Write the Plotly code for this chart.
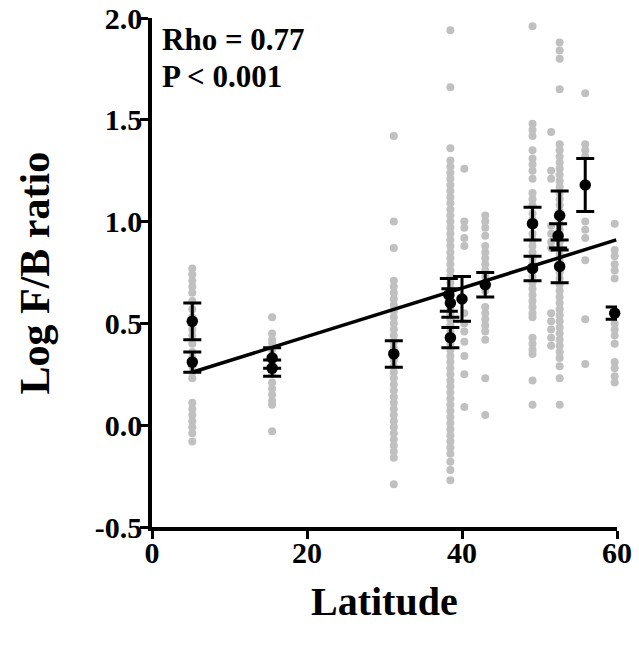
import plotly.graph_objects as go

# ---- data ----
grey_lat_5 = 5.2
grey_val_5 = [0.77, 0.74, 0.71, 0.68, 0.65, 0.61, 0.57, 0.53, 0.47, 0.44, 0.40, 0.36, 0.33,
              0.29, 0.26, 0.23, 0.11, 0.08, 0.05, 0.02, -0.01, -0.04, -0.08]
grey_lat_15 = 15.5
grey_val_15 = [0.53, 0.45, 0.42, 0.40, 0.37, 0.34, 0.31, 0.28, 0.25, 0.21, 0.18, 0.15, 0.12, 0.10, -0.03]
grey_lat_31 = 31.2
grey_val_31 = [1.42, 1.00, 0.87, 0.71, 0.68, 0.65, 0.62, 0.59, 0.56, 0.53, 0.50, 0.47, 0.44, 0.41,
               0.38, 0.35, 0.32, 0.29, 0.26, 0.23, 0.20, 0.17, 0.14, 0.11, 0.08, 0.05, 0.02, -0.01,
               -0.04, -0.07, -0.10, -0.13, -0.16, -0.29]
grey_lat_38 = 38.5
grey_val_38 = [1.94, 1.66, 1.36, 1.30, 1.27, 1.24, 1.21, 1.18, 1.15, 1.12, 1.09, 1.06, 1.03, 1.00,
               0.97, 0.94, 0.91, 0.88, 0.85, 0.82, 0.79, 0.76, 0.73, 0.70, 0.67, 0.64, 0.61, 0.58,
               0.55, 0.52, 0.49, 0.46, 0.43, 0.40, 0.37, 0.34, 0.31, 0.28, 0.25, 0.22, 0.19, 0.16,
               0.13, 0.10, 0.07, 0.04, 0.01, -0.02, -0.05, -0.08, -0.11, -0.14, -0.18, -0.22, -0.27]
grey_lat_40 = 40.3
grey_val_40 = [1.26, 1.00, 0.97, 0.92, 0.88, 0.55, 0.50, 0.46, 0.41, 0.34, 0.25, 0.09]
grey_lat_43 = 43.0
grey_val_43 = [1.03, 1.00, 0.97, 0.93, 0.88, 0.85, 0.82, 0.79, 0.76, 0.73, 0.70, 0.66, 0.58, 0.55,
               0.52, 0.49, 0.46, 0.42, 0.23, 0.05]
grey_lat_49 = 49.1
grey_val_49 = [1.96, 1.48, 1.45, 1.42, 1.35, 1.31, 1.28, 1.25, 1.21, 1.14, 1.11, 1.08, 1.04, 1.01,
               0.98, 0.94, 0.91, 0.88, 0.85, 0.82, 0.79, 0.76, 0.73, 0.70, 0.67, 0.64, 0.61, 0.58,
               0.55, 0.53, 0.43, 0.40, 0.37, 0.35, 0.22, 0.10]
grey_lat_51 = 51.5
grey_val_51 = [1.44, 1.25, 1.21, 0.98, 0.94, 0.90, 0.87, 0.55, 0.51, 0.47, 0.43, 0.39]
grey_lat_52 = 52.6
grey_val_52 = [1.88, 1.84, 1.80, 1.65, 1.38, 1.35, 1.32, 1.29, 1.26, 1.23, 1.20, 1.17, 1.14, 1.11,
               1.08, 1.05, 1.02, 0.99, 0.96, 0.93, 0.90, 0.87, 0.84, 0.81, 0.78, 0.75, 0.72, 0.69,
               0.66, 0.63, 0.60, 0.57, 0.54, 0.51, 0.48, 0.45, 0.42, 0.39, 0.36, 0.33, 0.29, 0.23, 0.10]
grey_lat_56 = 55.9
grey_val_56 = [1.63, 1.38, 1.35, 1.32, 1.00, 0.96, 0.92, 0.81, 0.52, 0.30]
grey_lat_59 = 59.7
grey_val_59 = [0.99, 0.86, 0.83, 0.79, 0.76, 0.72, 0.56, 0.50, 0.47, 0.44, 0.40, 0.31, 0.28, 0.24, 0.21]

mean_lat = [5.2, 5.2, 15.5, 15.5, 31.2, 38.5, 38.5, 38.3, 40.0, 43.0, 49.1, 49.1, 52.6, 52.4, 52.6, 55.9, 59.7]
mean_val = [0.51, 0.31, 0.33, 0.28, 0.35, 0.43, 0.60, 0.64, 0.62, 0.69, 0.99, 0.77, 1.03, 0.93, 0.78, 1.18, 0.55]
mean_err = [0.09, 0.05, 0.05, 0.04, 0.065, 0.05, 0.07, 0.08, 0.11, 0.06, 0.08, 0.06, 0.12, 0.06, 0.08, 0.13, 0.03]

fit_lat = [5.2, 59.9]
fit_val = [0.26, 0.91]

x_ticks = [0, 20, 40, 60]
y_ticks = [-0.5, 0.0, 0.5, 1.0, 1.5, 2.0]
y_tick_text = ["-0.5", "0.0", "0.5", "1.0", "1.5", "2.0"]

stats_line1 = "Rho = 0.77"
stats_line2 = "P < 0.001"
x_title = "Latitude"
y_title = "Log F/B ratio"

# ---- build grey point arrays ----
columns = [
    (grey_lat_5, grey_val_5), (grey_lat_15, grey_val_15), (grey_lat_31, grey_val_31),
    (grey_lat_38, grey_val_38), (grey_lat_40, grey_val_40), (grey_lat_43, grey_val_43),
    (grey_lat_49, grey_val_49), (grey_lat_51, grey_val_51), (grey_lat_52, grey_val_52),
    (grey_lat_56, grey_val_56), (grey_lat_59, grey_val_59),
]
gx, gy = [], []
for lat, vals in columns:
    gx += [lat] * len(vals)
    gy += vals

FONT = "Liberation Serif, Times New Roman, serif"
W, H = 639, 647
L, R, T, B = 152, 22, 18, 120
PW, PH = W - L - R, H - T - B


def py(pix):                 # window pixel -> paper y
    return (H - B - pix) / PH


def px(pix):                 # window pixel -> paper x
    return (pix - L) / PW


fig = go.Figure()
fig.add_trace(go.Scatter(
    x=gx, y=gy, mode="markers",
    marker=dict(size=8, color="rgb(192,192,192)"),
    hoverinfo="skip", cliponaxis=False, showlegend=False,
))
fig.add_trace(go.Scatter(
    x=fit_lat, y=fit_val, mode="lines",
    line=dict(color="black", width=3.5),
    cliponaxis=False, showlegend=False,
))
fig.add_trace(go.Scatter(
    x=mean_lat, y=mean_val, mode="markers",
    marker=dict(size=11.5, color="black"),
    error_y=dict(type="data", array=mean_err, visible=True, color="black", thickness=3, width=9),
    cliponaxis=False, showlegend=False,
))

axis_common = dict(
    showgrid=False, zeroline=False, automargin=False, ticklabeloverflow="allow",
    showline=True, linecolor="black", linewidth=3.5,
    ticks="outside", ticklen=8, tickwidth=3, tickcolor="black",
    tickfont=dict(family=FONT, size=30, color="black", weight="bold"),
)

fig.update_layout(
    width=W, height=H,
    margin=dict(l=L, r=R, t=T, b=B, autoexpand=False),
    paper_bgcolor="white", plot_bgcolor="white",
    font=dict(family=FONT, color="black"),
    xaxis=dict(range=[0, 60], tickvals=x_ticks, ticklabelstandoff=-12, **axis_common),
    yaxis=dict(range=[-0.5, 2.0], tickvals=y_ticks, ticktext=y_tick_text,
               ticklabelstandoff=-8, **axis_common),
    annotations=[
        dict(text="<b>" + x_title + "</b>", xref="paper", yref="paper", x=0.5, y=py(601),
             xanchor="center", yanchor="middle", showarrow=False,
             font=dict(family=FONT, size=40, color="black")),
        dict(text="<b>" + y_title + "</b>", xref="paper", yref="paper", x=px(34), y=0.5,
             xanchor="center", yanchor="middle", textangle=-90, showarrow=False,
             font=dict(family=FONT, size=42, color="black")),
        dict(text="<b>" + stats_line1 + "</b>", xref="paper", yref="paper",
             x=px(160), y=py(39), xanchor="left", yanchor="middle",
             showarrow=False, font=dict(family=FONT, size=31, color="black")),
        dict(text="<b>" + stats_line2 + "</b>", xref="paper", yref="paper",
             x=px(160), y=py(76), xanchor="left", yanchor="middle",
             showarrow=False, font=dict(family=FONT, size=31, color="black")),
    ],
)

# remove the browser's default 8px page margin so the figure fills the window exactly
fig.write_html("out.html", config={"displayModeBar": False},
               post_script="document.body.style.margin='0px';")
